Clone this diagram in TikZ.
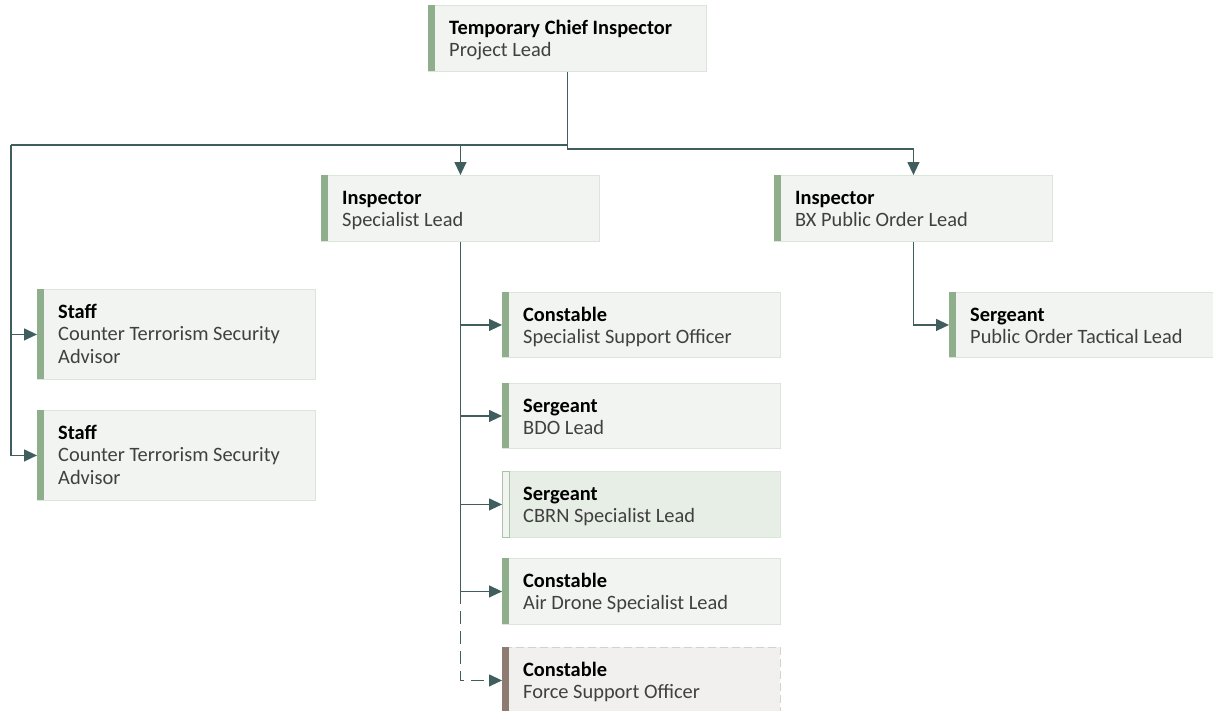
\documentclass[tikz,border=0pt]{standalone}
\usepackage{fontspec}
\setmainfont{Carlito}
\usetikzlibrary{arrows.meta,calc}

\definecolor{connc}{HTML}{405E5E}
\definecolor{barg}{HTML}{8FAE8C}
\definecolor{boxfill}{HTML}{F2F4F1}
\definecolor{boxline}{HTML}{DCE5DA}
\definecolor{cbrnfill}{HTML}{E7EEE6}
\definecolor{cbrnbar}{HTML}{A9C3A6}
\definecolor{brownbar}{HTML}{8E7C72}
\definecolor{vacfill}{HTML}{F1F0EE}
\definecolor{vacline}{HTML}{D2D2D0}
\definecolor{txtgray}{HTML}{404040}

\tikzset{
  box/.style={rectangle, draw=boxline, fill=boxfill, line width=0.9pt,
    anchor=north west, inner sep=0pt},
  vacant/.style={draw=vacline, fill=vacfill, dash pattern=on 8pt off 4pt},
  tinted/.style={fill=cbrnfill},
  barstd/.style={fill=barg},
  barlight/.style={fill=boxfill, draw=cbrnbar, line width=0.9pt},
  barbrown/.style={fill=brownbar},
  txt/.style={anchor=base west, inner sep=0pt, text=txtgray,
    font=\fontsize{20.4}{22.5}\selectfont},
  conn/.style={draw=connc, line width=1.3pt, line join=miter,
    -{Triangle[length=13pt,width=12pt]}},
  link/.style={draw=connc, line width=1.3pt},
}

% \orgbox{name}{x}{y}{width}{height}{box style}{bar style}{title}{body}
\newcommand\orgbox[9]{%
  \node[box,#6,minimum width=#4pt,minimum height=#5pt] (#1) at (#2,#3) {};
  \path[#7] (#1.north west) rectangle ++(7,#5);
  \node[txt] (#1-t) at ($(#1.north west)+(21,29)$)
    {\begin{tabular}[t]{@{}l@{}}\textbf{\color{black}#8}\\#9\end{tabular}};
}

\begin{document}
\begin{tikzpicture}[x=1pt,y=-1pt]
\useasboundingbox (0,0) rectangle (1213,710);

\orgbox{top}{428}{5}{278}{66}{}{barstd}{Temporary Chief Inspector}{Project Lead}
\orgbox{insA}{321}{175}{278}{66}{}{barstd}{Inspector}{Specialist Lead}
\orgbox{insB}{774}{175}{278}{66}{}{barstd}{Inspector}{BX Public Order Lead}
\orgbox{staffA}{37}{289}{278}{90}{}{barstd}{Staff}{Counter Terrorism Security\\Advisor}
\orgbox{staffB}{37}{410}{278}{90}{}{barstd}{Staff}{Counter Terrorism Security\\Advisor}
\orgbox{ssoff}{502}{292}{278}{65}{}{barstd}{Constable}{Specialist Support Officer}
\orgbox{bdo}{502}{383}{278}{65}{}{barstd}{Sergeant}{BDO Lead}
\orgbox{cbrn}{502}{471}{278}{66}{tinted}{barlight}{Sergeant}{CBRN Specialist Lead}
\orgbox{drone}{502}{558}{278}{66}{}{barstd}{Constable}{Air Drone Specialist Lead}
\orgbox{fso}{502}{647}{278}{66}{vacant}{barbrown}{Constable}{Force Support Officer}
\orgbox{potl}{949}{292}{278}{65}{}{barstd}{Sergeant}{Public Order Tactical Lead}

% reporting lines from the project lead
\coordinate (busL) at (11,145);
\draw[link] (top.south) |- (busL);
\draw[conn] (busL) |- (staffA.west);
\draw[conn] (busL) |- (staffB.west);
\draw[conn] (insA.north |- busL) -- (insA.north);
\draw[conn] (top.south) -- ++(0,77) -| (insB.north);

% specialist lead team
\draw[conn] (insA.south) |- (ssoff.west);
\draw[conn] (insA.south) |- (bdo.west);
\draw[conn] (insA.south) |- (cbrn.west);
\draw[conn] (insA.south) |- (drone.west);
\draw[conn, dash pattern=on 13pt off 7pt] (insA.south |- drone.west) |- (fso.west);

% public order
\draw[conn] (insB.south) |- (potl.west);
\end{tikzpicture}
\end{document}
